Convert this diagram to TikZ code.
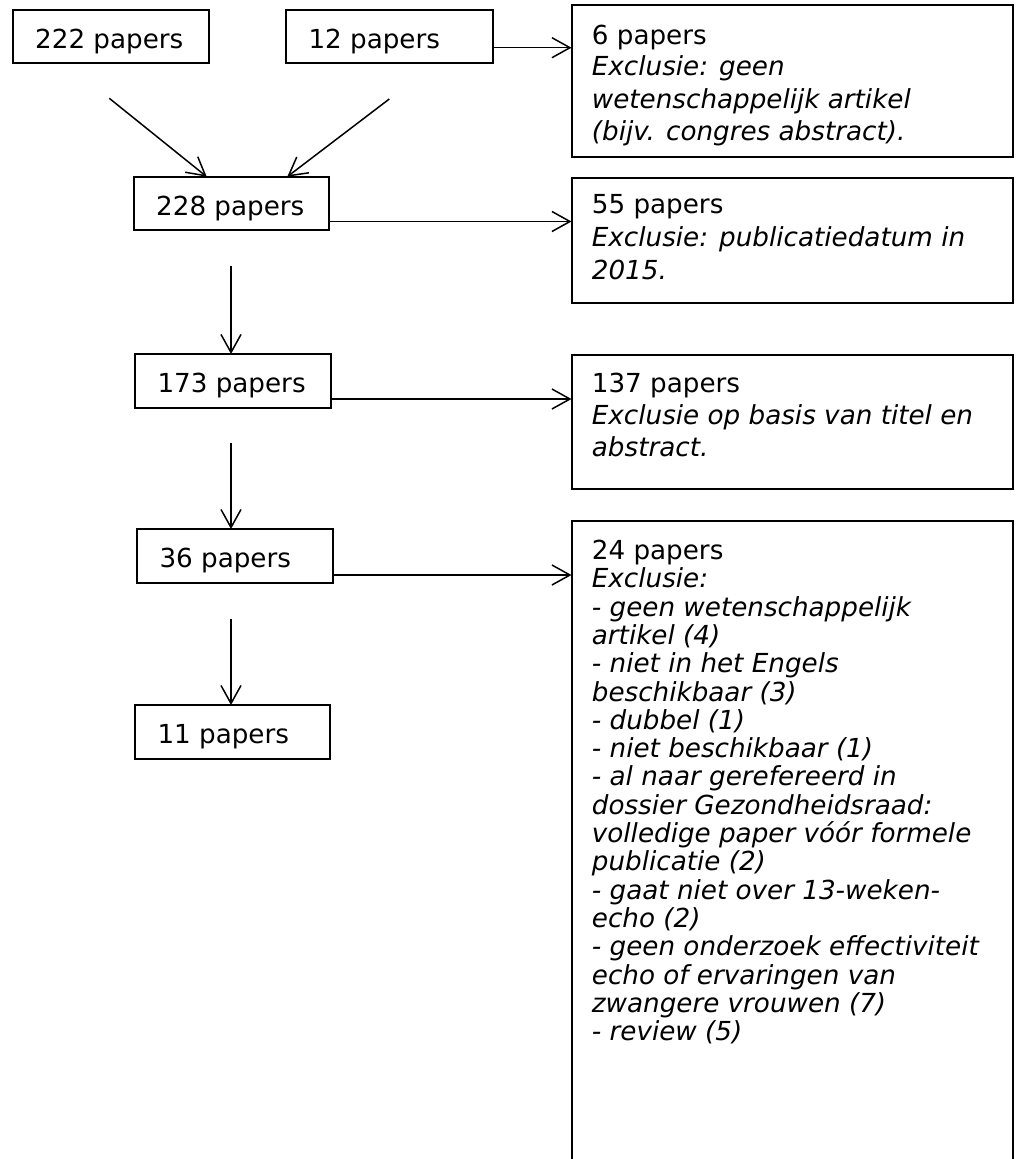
\documentclass[tikz,border=0pt]{standalone}
\usepackage{fontspec}
\setmainfont{DejaVu Sans}
\usetikzlibrary{arrows.meta}
\newcommand\boxlines[2]{\vtop{\hsize=440pt\parindent=0pt\parskip=0pt\fontsize{26.2pt}{#1pt}\selectfont #2\par}}
\tikzset{
  bx/.style={draw=black, line width=2pt, inner sep=0pt, outer sep=0pt, anchor=north west},
  txt/.style={inner sep=0pt, anchor=base west, font=\fontsize{26.2pt}{32pt}\selectfont},
  arr/.style={line width=1.5pt, -{Straight Barb[length=18pt,width=20pt,line width=1.5pt]}},
}
\begin{document}
\begin{tikzpicture}[x=1pt,y=-1pt]
\useasboundingbox (0,0) rectangle (1016,1159);
\clip (0,0) rectangle (1016,1159);
\fill[white] (0,0) rectangle (1016,1159);

% left column boxes
\node[bx, minimum width=196pt,   minimum height=53.3pt] (b222) at (12.7,10) {};
\node[bx, minimum width=206.7pt, minimum height=53.3pt] (b12)  at (286,10) {};
\node[bx, minimum width=195.3pt, minimum height=53.3pt] (b228) at (134,176.7) {};
\node[bx, minimum width=196pt,   minimum height=54pt]   (b173) at (135,354) {};
\node[bx, minimum width=196pt,   minimum height=54pt]   (b36)  at (137,529) {};
\node[bx, minimum width=195pt,   minimum height=54pt]   (b11)  at (135,705) {};

% right column boxes
\node[bx, minimum width=441.5pt, minimum height=152pt] (b6)   at (571.5,5) {};
\node[bx, minimum width=441.5pt, minimum height=125pt] (b55)  at (571.5,178) {};
\node[bx, minimum width=441.5pt, minimum height=134pt] (b137) at (571.5,355) {};
\node[bx, minimum width=441.5pt, minimum height=680pt] (b24)  at (571.5,521) {};

% texts of left boxes
\node[txt] (t222) at (35,48.3) {222 papers};
\node[txt] (t12)  at (308.3,48) {12 papers};
\node[txt] (t228) at (156,215) {228 papers};
\node[txt] (t173) at (157.3,392.3) {173 papers};
\node[txt] (t36)  at (159.3,567.3) {36 papers};
\node[txt] (t11)  at (157.3,743.3) {11 papers};

% texts of right boxes
\node[txt] (t6) at (591.7,44) {\boxlines{32}{6 papers\par\itshape Exclusie: geen\par wetenschappelijk artikel\par (bijv. congres abstract).}};
\node[txt] (t55) at (591.7,213.5) {\boxlines{32.8}{55 papers\par\itshape Exclusie: publicatiedatum in\par 2015.}};
\node[txt] (t137) at (591.7,392.7) {\boxlines{32}{137 papers\par\itshape Exclusie op basis van titel en\par abstract.}};
\node[txt] (t24) at (591.7,559.5) {\boxlines{28.3}{24 papers\par\itshape Exclusie:\par
- geen wetenschappelijk\par
artikel (4)\par
- niet in het Engels\par
beschikbaar (3)\par
- dubbel (1)\par
- niet beschikbaar (1)\par
- al naar gerefereerd in\par
dossier Gezondheidsraad:\par
volledige paper vóór formele\par
publicatie (2)\par
- gaat niet over 13-weken-\par
echo (2)\par
- geen onderzoek effectiviteit\par
echo of ervaringen van\par
zwangere vrouwen (7)\par
- review (5)}};

% free start points of connectors
\coordinate (d1) at (109.3,98.3);
\coordinate (d2) at (389.3,99);
\coordinate (c1) at (231,266);
\coordinate (c2) at (231,443);
\coordinate (c3) at (231,619);

% connectors
\draw[arr] (d1) -- (206.7,0 |- b228.north);
\draw[arr] (d2) -- (287.3,0 |- b228.north);
\draw[arr] (c1) -- (c1 |- b173.north);
\draw[arr] (c2) -- (c2 |- b36.north);
\draw[arr] (c3) -- (c3 |- b11.north);

\draw[arr] (b12.east |- 0,47.7) -- (b6.west |- 0,47.7);
\draw[arr] (b228.east |- 0,221.5) -- (b55.west |- 0,221.5);
\draw[arr] (b173.east |- 0,399) -- (b137.west |- 0,399);
\draw[arr] (b36.east |- 0,575) -- (b24.west |- 0,575);
\end{tikzpicture}
\end{document}
